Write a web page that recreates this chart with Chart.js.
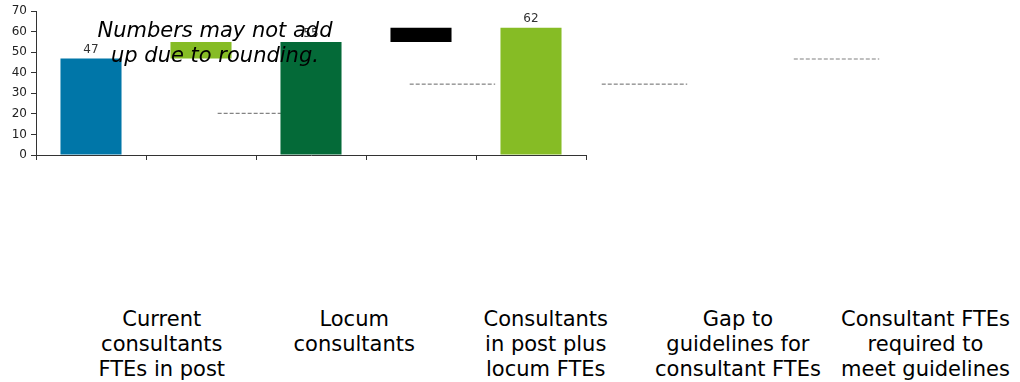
<!DOCTYPE html>
<html lang="en">
<head>
    <meta charset="UTF-8">
    <title>Consultant FTEs</title>
    <script src="https://cdn.jsdelivr.net/npm/chart.js"></script>
    <style>
        body {
            margin: 0;
            width: 1020px;
            height: 382px;
            background: white;
            position: relative;
            overflow: hidden;
            font-family: "DejaVu Sans", Verdana, sans-serif;
        }
        .chart-box {
            position: absolute;
            left: 0;
            top: 0;
            width: 1020px;
            height: 170px;
        }
        .note {
            position: absolute;
            left: 0;
            top: 18px;
            width: 430px;
            text-align: center;
            font-style: italic;
            font-size: 21px;
            line-height: 25px;
            color: #000;
        }
        .cat-label {
            position: absolute;
            top: 307px;
            text-align: center;
            font-size: 21px;
            line-height: 25px;
            color: #000;
            white-space: nowrap;
        }
    </style>
</head>
<body>
    <div class="chart-box">
        <canvas id="wfChart"></canvas>
    </div>
    <div class="note">Numbers may not add<br>up due to rounding.</div>
    <div id="labels"></div>

    <script>
        // data
        const categories = [
            ['Current', 'consultants', 'FTEs in post'],
            ['Locum', 'consultants'],
            ['Consultants', 'in post plus', 'locum FTEs'],
            ['Gap to', 'guidelines for', 'consultant FTEs'],
            ['Consultant FTEs', 'required to', 'meet guidelines']
        ];
        const barStarts = [0, 47, 0, 55, 0];
        const barEnds = [47, 55, 55, 62, 62];
        const barColors = ['#0076A8', '#86BC25', '#046A38', '#000000', '#86BC25'];
        const connectorLevels = [20.3, 34.5, 34.5, 46.7];
        const yTicks = [0, 10, 20, 30, 40, 50, 60, 70];

        // connectors sit on a wider hidden scale (one step per category)
        const darkConnectors = [];
        const lightConnectors = [];
        connectorLevels.forEach((lvl, i) => {
            const target = i === connectorLevels.length - 1 ? lightConnectors : darkConnectors;
            target.push({ x: i + 0.29, y: lvl }, { x: i + 0.735, y: lvl }, { x: i + 0.75, y: null });
        });

        const valueLabels = {
            id: 'valueLabels',
            afterDatasetsDraw(chart) {
                const meta = chart.getDatasetMeta(2);
                const c = chart.ctx;
                c.save();
                c.font = '12px "DejaVu Sans"';
                c.fillStyle = '#333';
                c.textAlign = 'center';
                c.textBaseline = 'alphabetic';
                meta.data.forEach((bar, i) => {
                    if (barStarts[i] !== 0) return;
                    c.fillText(String(barEnds[i]), bar.x, bar.y - 5.5);
                });
                c.restore();
            }
        };

        const ctx = document.getElementById('wfChart').getContext('2d');
        const chart = new Chart(ctx, {
            data: {
                labels: categories,
                datasets: [
                    {
                        type: 'line',
                        xAxisID: 'xc',
                        data: darkConnectors,
                        borderColor: '#666',
                        borderWidth: 1,
                        borderDash: [4, 2],
                        pointRadius: 0,
                        spanGaps: false,
                        clip: false,
                        order: 3
                    },
                    {
                        type: 'line',
                        xAxisID: 'xc',
                        data: lightConnectors,
                        borderColor: '#aaa',
                        borderWidth: 1.5,
                        borderDash: [4, 2],
                        pointRadius: 0,
                        spanGaps: false,
                        clip: false,
                        order: 3
                    },
                    {
                        type: 'bar',
                        xAxisID: 'x',
                        data: barStarts.map((s, i) => [s, barEnds[i]]),
                        backgroundColor: barColors,
                        borderWidth: 0,
                        grouped: false,
                        barPercentage: 0.555,
                        categoryPercentage: 1,
                        order: 1
                    }
                ]
            },
            options: {
                responsive: true,
                maintainAspectRatio: false,
                animation: false,
                events: [],
                layout: { padding: { top: 11, right: 434, left: 0, bottom: 0 } },
                plugins: {
                    legend: { display: false },
                    tooltip: { enabled: false }
                },
                scales: {
                    x: {
                        type: 'category',
                        offset: true,
                        grid: {
                            offset: true,
                            drawOnChartArea: false,
                            color: '#333',
                            tickLength: 5
                        },
                        border: { color: '#333' },
                        ticks: { callback: () => '' },
                        afterFit(scale) { scale.height = 15; }
                    },
                    xc: {
                        type: 'linear',
                        display: false,
                        bounds: 'data',
                        afterDataLimits(scale) {
                            scale.min = -0.656;
                            scale.max = 2.208;
                        },
                        afterBuildTicks(scale) {
                            scale.min = -0.656;
                            scale.max = 2.208;
                        }
                    },
                    y: {
                        min: 0,
                        max: 70,
                        afterBuildTicks(scale) { scale.ticks = yTicks.map(v => ({ value: v })); },
                        grid: {
                            drawOnChartArea: false,
                            color: '#333',
                            tickLength: 5
                        },
                        border: { color: '#333' },
                        ticks: {
                            padding: 4,
                            color: '#222',
                            font: { family: '"DejaVu Sans"', size: 12 }
                        },
                        afterFit(scale) { scale.width = 36; }
                    }
                }
            },
            plugins: [valueLabels]
        });

        // category labels laid out below, one wide step per category
        const holder = document.getElementById('labels');
        categories.forEach((lines, i) => {
            const div = document.createElement('div');
            div.className = 'cat-label';
            div.innerHTML = lines.join('<br>');
            holder.appendChild(div);
            const w = div.offsetWidth;
            const centre = 162 + 192 * i;
            div.style.left = Math.min(centre - w / 2, 1010 - w) + 'px';
        });
    </script>
</body>
</html>
